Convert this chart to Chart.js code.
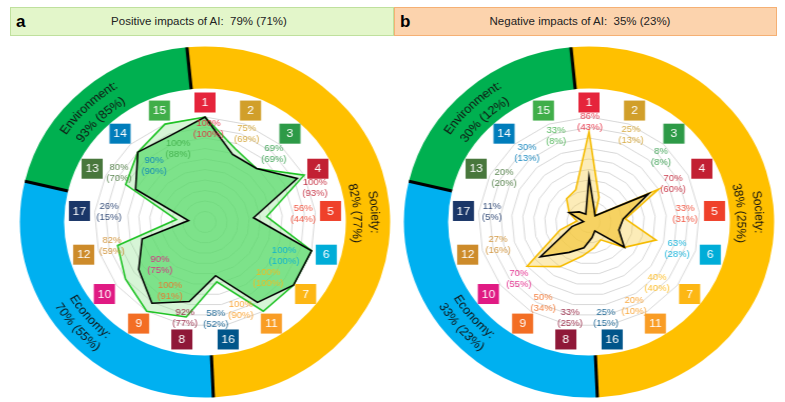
<!DOCTYPE html>
<html>
<head>
<meta charset="utf-8">
<script src="https://cdn.jsdelivr.net/npm/chart.js@4.4.0/dist/chart.umd.min.js"></script>
<style>
  body { margin: 0; background: #fff; width: 785px; height: 402px; overflow: hidden; position: relative;
         font-family: "Liberation Sans", Arial, Helvetica, sans-serif; }
  .head { position: absolute; top: 7px; height: 29px; line-height: 27px; box-sizing: border-box; font-size: 11.5px; color: #222; }
  .head b { position: absolute; left: 5px; top: 0; font-size: 17px; color: #000; }
  .head span { position: absolute; top: 0; transform: translateX(-50%); white-space: pre; }
  .panel { position: absolute; top: 41.5px; width: 360px; height: 360px; transform: scaleX(1.055); transform-origin: 50% 50%; }
  .panel canvas { position: absolute; left: 0; top: 0; }
</style>
</head>
<body>
<div class="head" style="left:10px;width:384px;background:#e3f6ca;border:1px solid #bfe09d">
  <b>a</b><span style="left:188px">Positive impacts of AI:  79% (71%)</span>
</div>
<div class="head" style="left:394px;width:383px;background:#fcd3ad;border:1px solid #f5b074">
  <b style="left:5px">b</b><span style="left:185px">Negative impacts of AI:  35% (23%)</span>
</div>

<div class="panel" style="left:25px"><canvas id="ringA" width="360" height="360"></canvas><canvas id="radarA" width="360" height="360"></canvas></div>
<div class="panel" style="left:409px"><canvas id="ringB" width="360" height="360"></canvas><canvas id="radarB" width="360" height="360"></canvas></div>

<script>
const FONT = '"Liberation Sans", Arial, Helvetica, sans-serif'

// SDGs in the order they sit round the radar, clockwise from the top
const goals = ['1', '2', '3', '4', '5', '6', '7', '11', '16', '8', '9', '10', '12', '17', '13', '14', '15']

// positive impacts: any evidence / (strong evidence)
const posAny    = [100, 75, 69, 100, 56, 100, 100, 100, 58, 92, 100, 90, 82, 26, 80, 90, 100]
const posStrong = [100, 69, 69, 93, 44, 100, 100, 90, 52, 77, 91, 75, 59, 15, 70, 90, 88]

// negative impacts
const negAny    = [86, 25, 8, 70, 33, 63, 40, 20, 25, 33, 50, 70, 27, 11, 20, 30, 33]
const negStrong = [43, 13, 8, 60, 31, 28, 40, 10, 15, 25, 34, 55, 16, 5, 20, 13, 8]

// outer ring
const groups = ['Society:', 'Economy:', 'Environment:']
const groupSpan = [183, 106, 71]
const posGroup = ['82% (77%)', '70% (55%)', '93% (85%)']
const negGroup = ['38% (25%)', '33% (23%)', '30% (12%)']

const goalColor = {
  '1': '#E5243B', '2': '#D19F2A', '3': '#2D9A47', '4': '#C22033', '5': '#EF412A', '6': '#00ADD8',
  '7': '#FDB714', '8': '#8F1838', '9': '#F36E24', '10': '#E01A83', '11': '#F99D25', '12': '#CD8B2A',
  '13': '#48773C', '14': '#007DBB', '15': '#40AE49', '16': '#00558A', '17': '#1A3668'
}

// where the percentage texts sit (fraction of radius, turn in degrees)
const posLabelDist = [0.886, 0.92, 0.898, 1.045, 0.888, 0.783, 0.78, 0.899, 0.93, 0.932, 0.73, 0.577, 0.87, 0.871, 0.906, 0.705, 0.737]
const posLabelTurn = [2, 3, 1.5, 8.4, 0.3, 8.5, 6, 10.6, 4.5, 0.6, -6, -8, 0.7, 1, 4.5, 1.6, 2]
const negLabelDist = [0.952, 0.911, 0.897, 0.84, 0.87, 0.835, 0.846, 0.897, 0.927, 0.93, 0.876, 0.833, 0.85, 0.881, 0.874, 0.864, 0.871]
const negLabelTurn = [0.5, 3.4, 4, 1, 0.3, 2, 6.3, 4.8, 1.1, 0, -3.5, -3.5, 0.9, 0.9, 2.1, 2, 1.2]

const ringMid = [86.5, 229, 316]
const ringFlip = [false, true, false]

function arcText(ctx, cx, cy, r, midDeg, text, flip) {
  const total = ctx.measureText(text).width
  const dir = flip ? -1 : 1
  let a = midDeg * Math.PI / 180 - dir * total / (2 * r)
  for (const ch of text) {
    const w = ctx.measureText(ch).width
    const c = a + dir * w / (2 * r)
    ctx.save()
    ctx.translate(cx + r * Math.sin(c), cy - r * Math.cos(c))
    ctx.rotate(flip ? c + Math.PI : c)
    ctx.fillText(ch, 0, 0)
    ctx.restore()
    a += dir * w / r
  }
}

function ringDeco(values) {
  return {
    id: 'ringDeco',
    afterDraw(chart) {
      const ctx = chart.ctx
      const arcs = chart.getDatasetMeta(0).data
      ctx.save()
      ctx.strokeStyle = '#000'
      ctx.lineWidth = 3
      arcs.forEach(arc => {
        const { x, y, startAngle, innerRadius, outerRadius } = arc.getProps(['x', 'y', 'startAngle', 'innerRadius', 'outerRadius'])
        ctx.beginPath()
        ctx.moveTo(x + Math.cos(startAngle) * innerRadius, y + Math.sin(startAngle) * innerRadius)
        ctx.lineTo(x + Math.cos(startAngle) * outerRadius, y + Math.sin(startAngle) * outerRadius)
        ctx.stroke()
      })
      const { x, y } = arcs[0]
      ctx.fillStyle = '#111'
      ctx.font = '12px ' + FONT
      ctx.textAlign = 'center'
      ctx.textBaseline = 'middle'
      groups.forEach((name, i) => {
        const flip = ringFlip[i]
        arcText(ctx, x, y, flip ? 146 : 161, ringMid[i], name, flip)
        arcText(ctx, x, y, flip ? 162 : 144, ringMid[i], values[i], flip)
      })
      ctx.restore()
    }
  }
}

function radarLabels(any, strong, dist, turn) {
  return {
    id: 'sdgLabels',
    afterDatasetsDraw(chart) {
      const r = chart.scales.r
      const ctx = chart.ctx
      ctx.save()
      ctx.textAlign = 'center'
      ctx.textBaseline = 'middle'
      goals.forEach((g, i) => {
        const b = r.getPointPosition(i, r.drawingArea + 14.5)
        ctx.fillStyle = goalColor[g]
        ctx.fillRect(b.x - 10, b.y - 10, 20, 20)
        ctx.fillStyle = '#fff'
        ctx.font = '11.5px ' + FONT
        ctx.fillText(g, b.x, b.y + 0.5)

        const p = r.getPointPosition(i, r.drawingArea * dist[i], turn[i] * Math.PI / 180)
        ctx.globalAlpha = 0.88
        ctx.fillStyle = goalColor[g]
        ctx.font = '9px ' + FONT
        ctx.fillText(any[i] + '%', p.x, p.y - 5.6)
        ctx.fillText('(' + strong[i] + '%)', p.x, p.y + 5.6)
        ctx.globalAlpha = 1
      })
      ctx.restore()
    }
  }
}

function drawRing(id, values) {
  new Chart(document.getElementById(id), {
    type: 'doughnut',
    data: {
      labels: groups,
      datasets: [{ data: groupSpan, backgroundColor: ['#FFC000', '#00B0F0', '#00B050'], borderWidth: 0 }]
    },
    options: {
      responsive: false,
      animation: false,
      events: [],
      rotation: -5.6,
      cutout: '76.07%',
      radius: 175.5,
      plugins: { legend: { display: false }, tooltip: { enabled: false } }
    },
    plugins: [ringDeco(values)]
  })
}

function drawRadar(id, any, strong, line, outerFill, innerFill, dist, turn) {
  new Chart(document.getElementById(id), {
    type: 'radar',
    data: {
      labels: goals,
      datasets: [
        { data: strong, borderColor: '#000', borderWidth: 1.6, backgroundColor: innerFill, fill: true, pointRadius: 0 },
        { data: any, borderColor: line, borderWidth: 1.6, backgroundColor: outerFill, fill: true, pointRadius: 0 }
      ]
    },
    options: {
      responsive: false,
      animation: false,
      events: [],
      layout: { padding: 75 },
      elements: { line: { tension: 0 } },
      scales: {
        r: {
          min: 0,
          max: 100,
          ticks: { display: false, stepSize: 10 },
          pointLabels: { display: false },
          angleLines: { display: false },
          grid: { color: '#d8d8d8', lineWidth: 1 }
        }
      },
      plugins: { legend: { display: false }, tooltip: { enabled: false } }
    },
    plugins: [radarLabels(any, strong, dist, turn)]
  })
}

drawRing('ringA', posGroup)
drawRing('ringB', negGroup)
drawRadar('radarA', posAny, posStrong, '#1fc325', 'rgba(141,226,141,0.35)', 'rgba(77,217,97,0.65)', posLabelDist, posLabelTurn)
drawRadar('radarB', negAny, negStrong, '#f5bb00', 'rgba(248,208,78,0.4)', 'rgba(243,199,61,0.7)', negLabelDist, negLabelTurn)
</script>
</body>
</html>
